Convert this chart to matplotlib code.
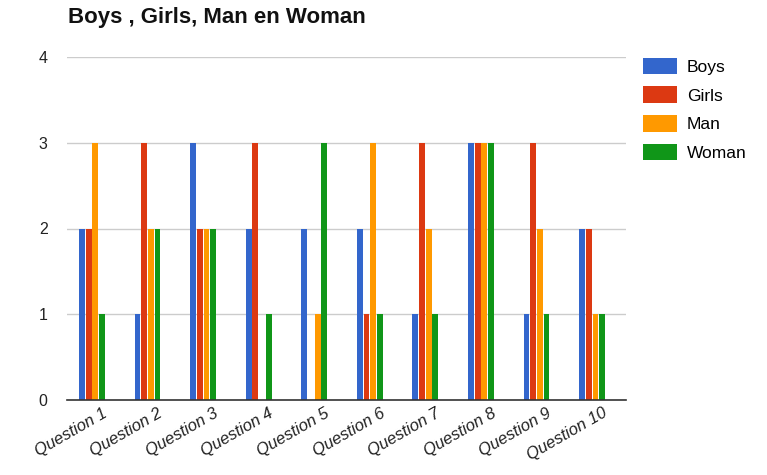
import matplotlib
matplotlib.use("Agg")
import matplotlib.pyplot as plt
import matplotlib.transforms as mtransforms
import numpy as np
from matplotlib.patches import Patch

categories = ["Question 1", "Question 2", "Question 3", "Question 4", "Question 5",
              "Question 6", "Question 7", "Question 8", "Question 9", "Question 10"]
boys = [2, 1, 3, 2, 2, 2, 1, 3, 1, 2]
girls = [2, 3, 2, 3, 0, 1, 3, 3, 3, 2]
man = [3, 2, 2, 0, 1, 3, 2, 3, 2, 1]
woman = [1, 2, 2, 1, 3, 1, 1, 3, 1, 1]
series_names = ["Boys", "Girls", "Man", "Woman"]
colors = ["#3366cc", "#dc3912", "#ff9900", "#109618"]

plt.rcParams['font.family'] = ['Liberation Sans', 'DejaVu Sans']

fig = plt.figure(figsize=(7.67, 4.75), dpi=100)
ax = fig.add_axes([67/767, 1-400/475, (626-67)/767, (400-57)/475])

x = np.arange(len(categories))
w = 0.105
step = 0.12
for i, (vals, c) in enumerate(zip([boys, girls, man, woman], colors)):
    ax.bar(x + (i - 1.5) * step, vals, width=w, color=c, zorder=3)

ax.set_xlim(-0.45, 9.61)
ax.set_ylim(0, 4)
ax.set_yticks([0, 1, 2, 3, 4])
ax.yaxis.grid(True, color="#cccccc", linewidth=1, zorder=0)
for s in ["top", "right", "left"]:
    ax.spines[s].set_visible(False)
ax.spines["bottom"].set_color("#333333")
ax.spines["bottom"].set_linewidth(1.2)
ax.spines["bottom"].set_zorder(4)
ax.tick_params(axis="y", length=0, pad=14, labelsize=11.5, labelcolor="#222222")
ax.tick_params(axis="x", length=0, pad=4)
ax.set_xticks(x)
ax.set_xticklabels(categories, rotation=30, ha="right", rotation_mode="anchor",
                   fontsize=12, fontstyle="italic", color="#222222")
offset = mtransforms.ScaledTranslation(10/100, 0, fig.dpi_scale_trans)
for lbl in ax.get_xticklabels():
    lbl.set_transform(lbl.get_transform() + offset)

fig.text(68/767, 1-18/475, "Boys , Girls, Man en Woman", fontsize=16,
         fontweight="bold", va="center", ha="left", color="#111111")

handles = [Patch(facecolor=c, edgecolor="none") for c in colors]
fig.legend(handles, series_names, loc="upper left", bbox_to_anchor=(627/767, 1-42/475),
           frameon=False, fontsize=12.5, handlelength=2.0, handleheight=1.1,
           labelspacing=0.66, handletextpad=0.55)

fig.savefig("out.png", dpi=100)
